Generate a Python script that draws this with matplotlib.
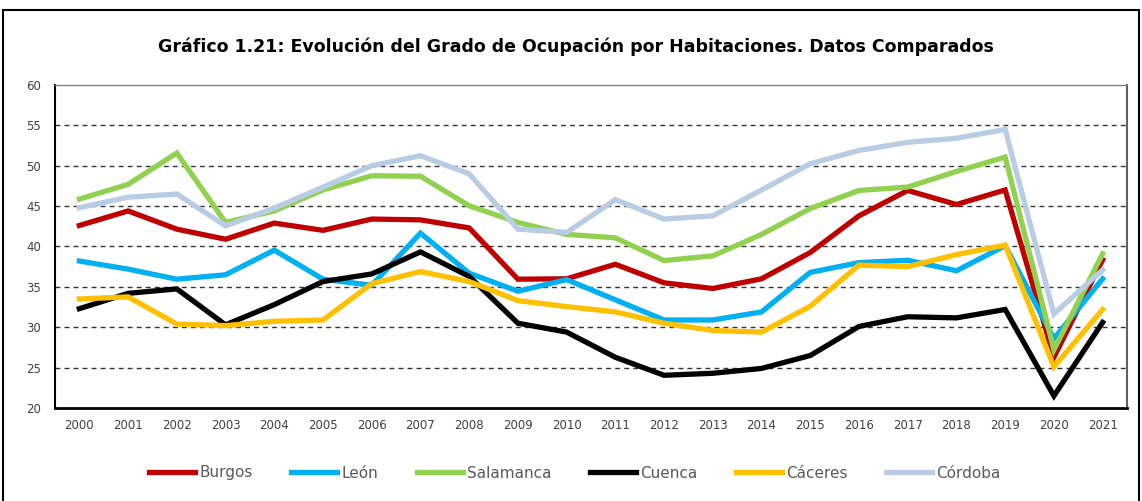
import matplotlib
matplotlib.use("Agg")
import matplotlib.pyplot as plt
from matplotlib.patches import Rectangle

years = [str(y) for y in range(2000, 2022)]

burgos = [42.6, 44.4, 42.15, 40.9, 42.9, 42.0, 43.4, 43.3, 42.3, 35.95, 36.0, 37.8,
          35.5, 34.8, 36.0, 39.26, 43.8, 46.94, 45.2, 47.0, 26.3, 38.35]
leon = [38.2, 37.2, 35.95, 36.5, 39.55, 35.95, 35.2, 41.65, 36.7, 34.46, 35.9, 33.4,
        30.9, 30.9, 31.9, 36.8, 38.0, 38.3, 37.0, 40.1, 28.6, 36.0]
salamanca = [45.87, 47.7, 51.57, 42.98, 44.4, 47.0, 48.76, 48.7, 45.04, 42.98, 41.5, 41.07,
             38.26, 38.84, 41.5, 44.7, 46.94, 47.36, 49.3, 51.07, 27.2, 39.1]
cuenca = [32.3, 34.2, 34.75, 30.3, 32.8, 35.66, 36.6, 39.33, 36.3, 30.5, 29.4, 26.28,
          24.05, 24.3, 24.9, 26.5, 30.1, 31.3, 31.16, 32.2, 21.5, 30.6]
caceres = [33.5, 33.76, 30.4, 30.2, 30.74, 30.9, 35.4, 36.9, 35.66, 33.3, 32.56, 31.9,
           30.5, 29.6, 29.4, 32.6, 37.7, 37.5, 39.0, 40.17, 25.1, 32.2]
cordoba = [44.8, 46.1, 46.5, 42.56, 44.75, 47.35, 50.0, 51.24, 49.0, 42.15, 41.74, 45.8,
           43.4, 43.8, 47.0, 50.25, 51.9, 52.9, 53.4, 54.5, 31.65, 37.1]

series = [
    ("Burgos", burgos, "#C00000"),
    ("León", leon, "#00B0F0"),
    ("Salamanca", salamanca, "#92D050"),
    ("Cuenca", cuenca, "#000000"),
    ("Cáceres", caceres, "#FFC000"),
    ("Córdoba", cordoba, "#B8CCE4"),
]

title = "Gráfico 1.21: Evolución del Grado de Ocupación por Habitaciones. Datos Comparados"

fig = plt.figure(figsize=(11.42, 5.01), dpi=100)
ax = fig.add_axes([55/1142, 1-408/501, (1127-55)/1142, (408-85)/501])

x = list(range(len(years)))
lines = []
for k, (name, vals, col) in enumerate(series):
    ln, = ax.plot(x, vals, color=col, lw=3.8, solid_joinstyle="miter", label=name, zorder=3 + k * 0.1)
    lines.append(ln)

ax.set_xlim(-0.5, len(years) - 0.5)
ax.set_ylim(20, 60)
ax.set_xticks(x)
ax.set_xticklabels(years)
ax.set_yticks(range(20, 61, 5))
ax.tick_params(axis="both", length=0, labelsize=8.5, colors="#404040")
ax.tick_params(axis="x", pad=8)
ax.tick_params(axis="y", pad=10)
for y in range(25, 60, 5):
    ax.axhline(y, color="#333333", lw=1.0, ls=(0, (3.5, 3)), zorder=1)

ax.spines["left"].set_color("#000000")
ax.spines["left"].set_linewidth(1.5)
ax.spines["bottom"].set_color("#000000")
ax.spines["bottom"].set_linewidth(2.0)
ax.spines["top"].set_color("#808080")
ax.spines["top"].set_linewidth(1.0)
ax.spines["right"].set_color("#606060")
ax.spines["right"].set_linewidth(1.5)

fig.text(576/1142, 1-47/501, title, ha="center", va="center",
         fontsize=12.5, fontweight="bold", color="#000000")

leg = fig.legend(lines, [s[0] for s in series], loc="center",
                 bbox_to_anchor=(575/1142, 1-473/501), ncol=6, frameon=False,
                 fontsize=11, handlelength=3.0, handletextpad=0.3, columnspacing=2.5)
for t in leg.get_texts():
    t.set_color("#595959")

fig.add_artist(Rectangle((3/1142, -0.05), (1139-3)/1142, 1.05 - 10/501,
                         transform=fig.transFigure, fill=False, edgecolor="#000000", lw=1.5))

fig.savefig("out.png", dpi=100)
